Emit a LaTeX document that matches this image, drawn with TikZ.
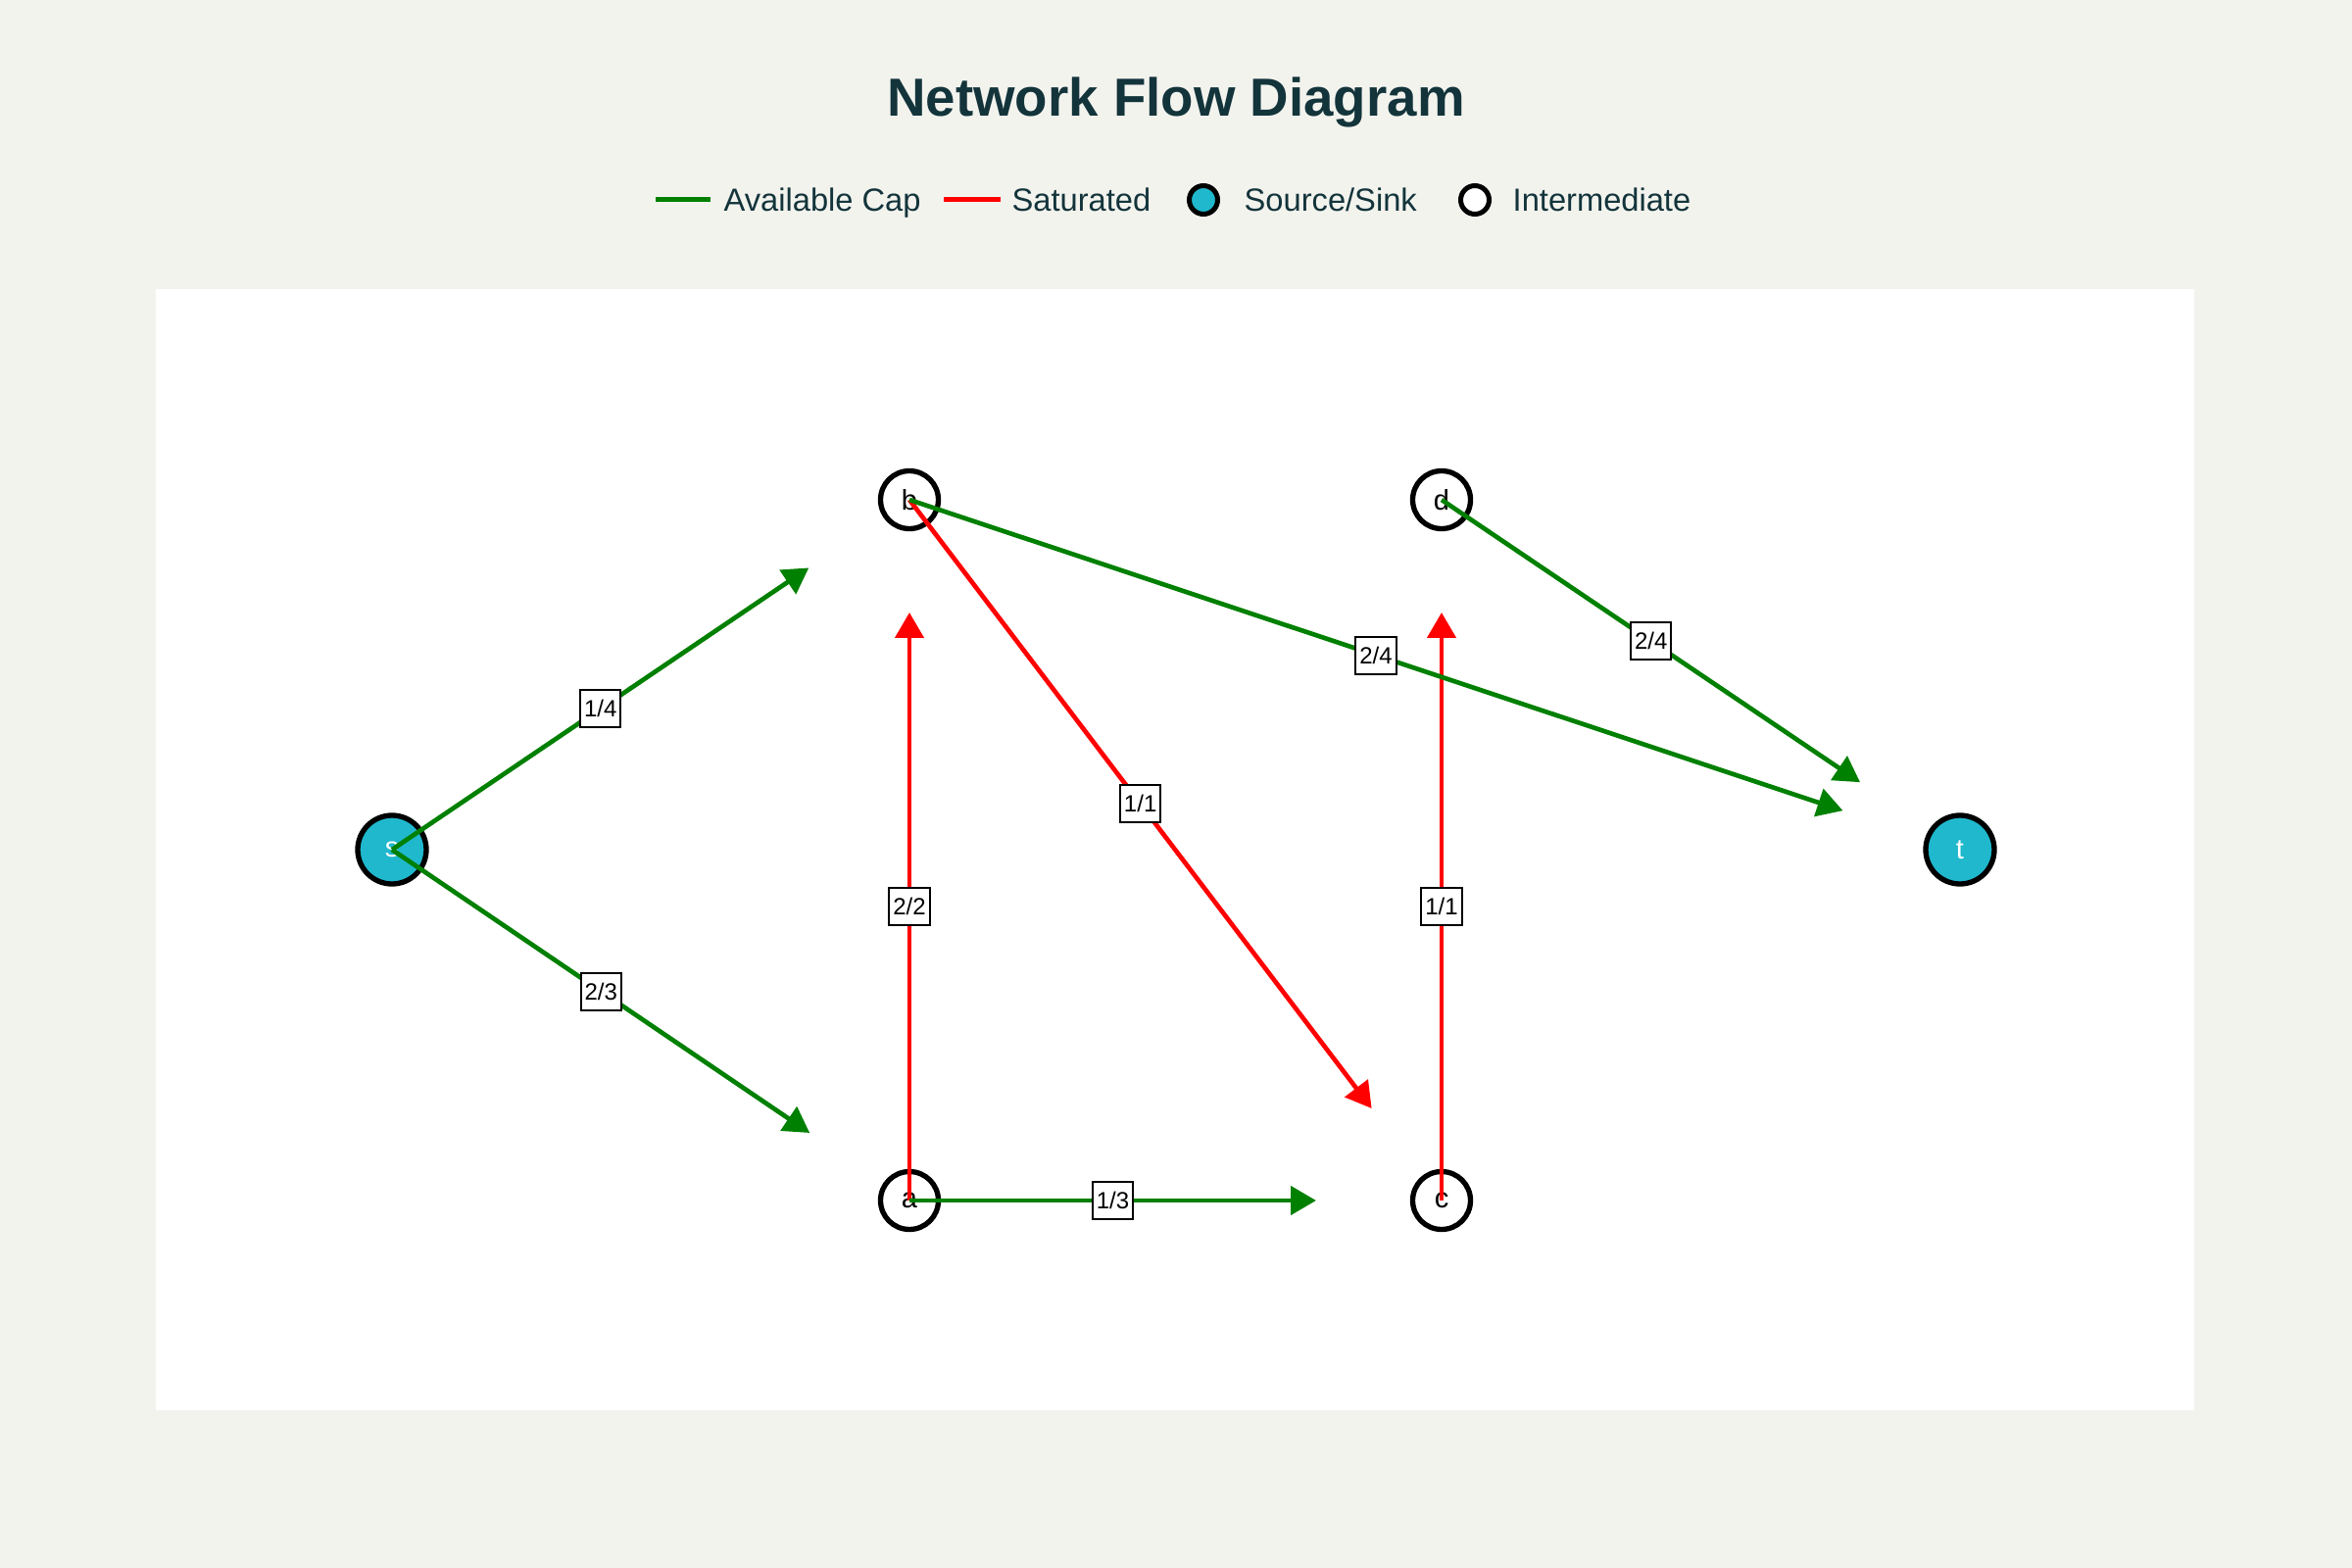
\documentclass[tikz,border=0pt]{standalone}
\usepackage{fontspec}
\setmainfont{Liberation Sans}
\usetikzlibrary{arrows.meta}
\definecolor{bgc}{HTML}{F3F3EE}
\definecolor{titlec}{HTML}{13343B}
\definecolor{tealc}{HTML}{1FB8CD}
\definecolor{flowgreen}{HTML}{008000}
\definecolor{flowred}{HTML}{FF0000}
\begin{document}
\begin{tikzpicture}[x=0.3pt,y=-0.3pt,
  srcnode/.style={circle,draw=black,line width=1.6pt,fill=tealc,minimum size=21pt,inner sep=0pt,text=white,font=\fontsize{8.7}{10}\selectfont},
  midnode/.style={circle,draw=black,line width=1.6pt,fill=white,minimum size=17.7pt,inner sep=0pt,font=\fontsize{8.7}{10}\selectfont},
  flowedge/.style={line width=1.4pt,-{Triangle[length=7.8pt,width=8.7pt]}},
  greenedge/.style={flowedge,draw=flowgreen},
  rededge/.style={flowedge,draw=flowred},
  flowlabel/.style={draw=black,line width=0.6pt,fill=white,inner xsep=1.2pt,inner ysep=0pt,minimum height=11.4pt,font=\fontsize{7.2}{8}\selectfont},
  legtext/.style={anchor=base west,inner sep=0pt,text=titlec,font=\fontsize{9.8}{11}\selectfont},
  legline/.style={line width=1.5pt},
  legdot/.style={circle,draw=black,line width=1.5pt,minimum size=8.7pt,inner sep=0pt}]
\useasboundingbox (0,0) rectangle (2400,1600);
\fill[bgc] (0,0) rectangle (2400,1600);
\fill[white] (159,295) rectangle (2239,1439);

\node[text=titlec,font=\bfseries\fontsize{16.4}{20}\selectfont] (title) at (1200,104) {Network Flow Diagram};

% legend
\coordinate (lg1a) at (669,204); \coordinate (lg1b) at (725,204);
\draw[legline,flowgreen] (lg1a) -- (lg1b);
\node[legtext] (lt1) at (738,216) {Available Cap};
\coordinate (lg2a) at (963,204); \coordinate (lg2b) at (1021,204);
\draw[legline,flowred] (lg2a) -- (lg2b);
\node[legtext] (lt2) at (1032,216) {Saturated};
\node[legdot,fill=tealc] (ld1) at (1228,204) {};
\node[legtext] (lt3) at (1269,216) {Source/Sink};
\node[legdot,fill=white] (ld2) at (1505,204) {};
\node[legtext] (lt4) at (1543,216) {Intermediate};

% nodes
\node[srcnode] (s) at (400,867) {s};
\node[srcnode] (t) at (2000,867) {t};
\node[midnode] (b) at (928,510) {b};
\node[midnode] (d) at (1471,510) {d};
\node[midnode] (a) at (928,1225) {a};
\node[midnode] (c) at (1471,1225) {c};

% saturated edges
\draw[rededge,shorten >=34.5pt] (a.center) -- (b.center);
\draw[rededge,shorten >=34.5pt] (c.center) -- (d.center);
\draw[rededge,shorten >=35.4pt] (b.center) -- (c.center);
% available edges
\draw[greenedge,shorten >=37.2pt] (s.center) -- (b.center);
\draw[greenedge,shorten >=36.9pt] (s.center) -- (a.center);
\draw[greenedge,shorten >=38.4pt] (a.center) -- (c.center);
\draw[greenedge,shorten >=37.8pt] (b.center) -- (t.center);
\draw[greenedge,shorten >=36.9pt] (d.center) -- (t.center);

% labels
\path (s.center) -- node[flowlabel,pos=0.403] (l1) {1/4} (b.center);
\path (s.center) -- node[flowlabel,pos=0.404] (l2) {2/3} (a.center);
\path (a.center) -- node[flowlabel,pos=0.42] (l3) {2/2} (b.center);
\path (c.center) -- node[flowlabel,pos=0.42] (l4) {1/1} (d.center);
\path (a.center) -- node[flowlabel,pos=0.382] (l5) {1/3} (c.center);
\path (b.center) -- node[flowlabel,pos=0.434] (l6) {1/1} (c.center);
\path (b.center) -- node[flowlabel,pos=0.444] (l7) {2/4} (t.center);
\path (d.center) -- node[flowlabel,pos=0.404] (l8) {2/4} (t.center);
\end{tikzpicture}
\end{document}
